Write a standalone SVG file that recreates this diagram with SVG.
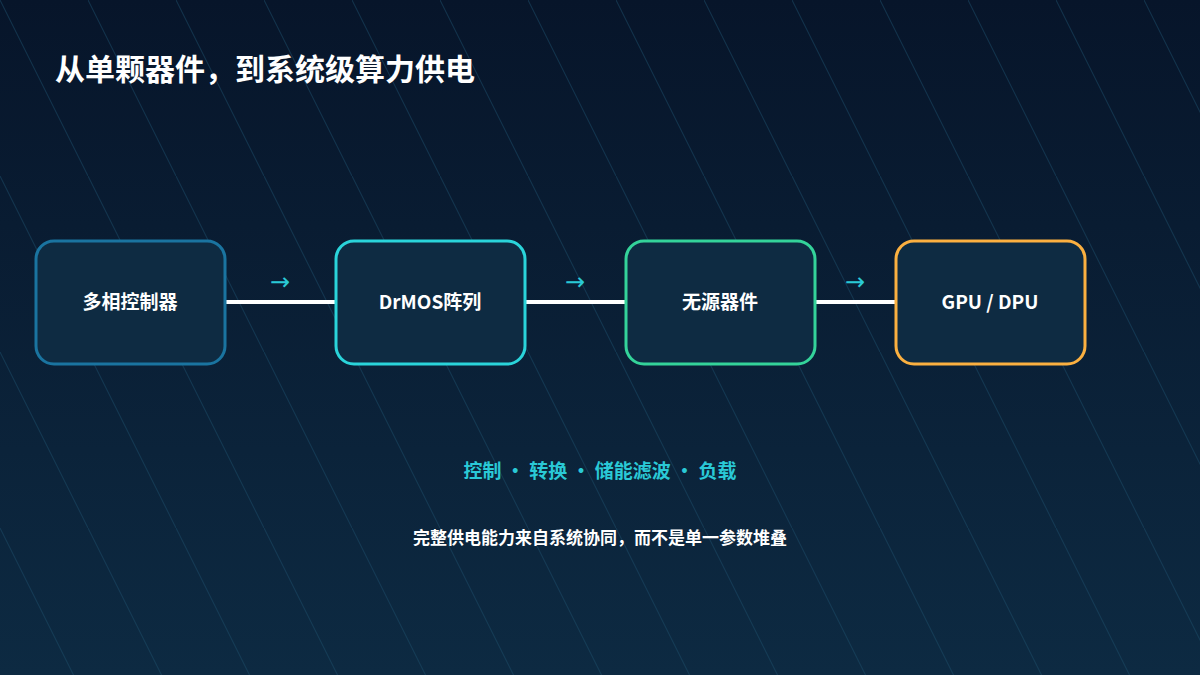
<svg xmlns="http://www.w3.org/2000/svg" width="1200" height="675" viewBox="0 0 1200 675">
<defs>
<linearGradient id="bg" x1="0" y1="0" x2="0" y2="1"><stop offset="0" stop-color="#07152a"/><stop offset="1" stop-color="#0d2a42"/></linearGradient>
<pattern id="diag" width="88" height="176" patternUnits="userSpaceOnUse"><line x1="0" y1="0" x2="88" y2="176" stroke="#1a4a66" stroke-width="1" opacity="0.6"/></pattern>
<style>
.n{fill:#0e2b42;stroke-width:3}
.t{font-family:"Noto Sans CJK SC","Noto Sans",sans-serif;font-weight:700;fill:#fff;font-size:19px;text-anchor:middle}
.a{font-family:"DejaVu Sans",sans-serif;fill:#2ac9d6;font-size:24px;text-anchor:middle}
</style>
</defs>
<rect width="1200" height="675" fill="url(#bg)"/>
<rect width="1200" height="675" fill="url(#diag)"/>
<text x="55" y="80" font-family="Noto Sans CJK SC,sans-serif" font-weight="700" font-size="30" fill="#fff">从单颗器件，到系统级算力供电</text>
<g id="connectors" stroke="#fff" stroke-width="4">
<line x1="225" y1="302" x2="336" y2="302"/>
<line x1="525" y1="302" x2="626" y2="302"/>
<line x1="815" y1="302" x2="896" y2="302"/>
</g>
<text class="a" x="280" y="290">→</text>
<text class="a" x="575" y="290">→</text>
<text class="a" x="855" y="290">→</text>
<g id="n1"><rect class="n" x="36" y="241" width="189" height="123" rx="18" stroke="#1a74a0"/><text class="t" x="130" y="309">多相控制器</text></g>
<g id="n2"><rect class="n" x="336" y="241" width="189" height="123" rx="18" stroke="#2ad4da"/><text class="t" x="430" y="309">DrMOS阵列</text></g>
<g id="n3"><rect class="n" x="626" y="241" width="189" height="123" rx="18" stroke="#34d39a"/><text class="t" x="720" y="309">无源器件</text></g>
<g id="n4"><rect class="n" x="896" y="241" width="189" height="123" rx="18" stroke="#fbb040"/><text class="t" x="990" y="309">GPU / DPU</text></g>
<text class="t" x="600" y="478" style="fill:#2ac9d6">控制 • 转换 • 储能滤波 • 负载</text>
<text class="t" x="600" y="544" style="font-size:17px">完整供电能力来自系统协同，而不是单一参数堆叠</text>
</svg>
